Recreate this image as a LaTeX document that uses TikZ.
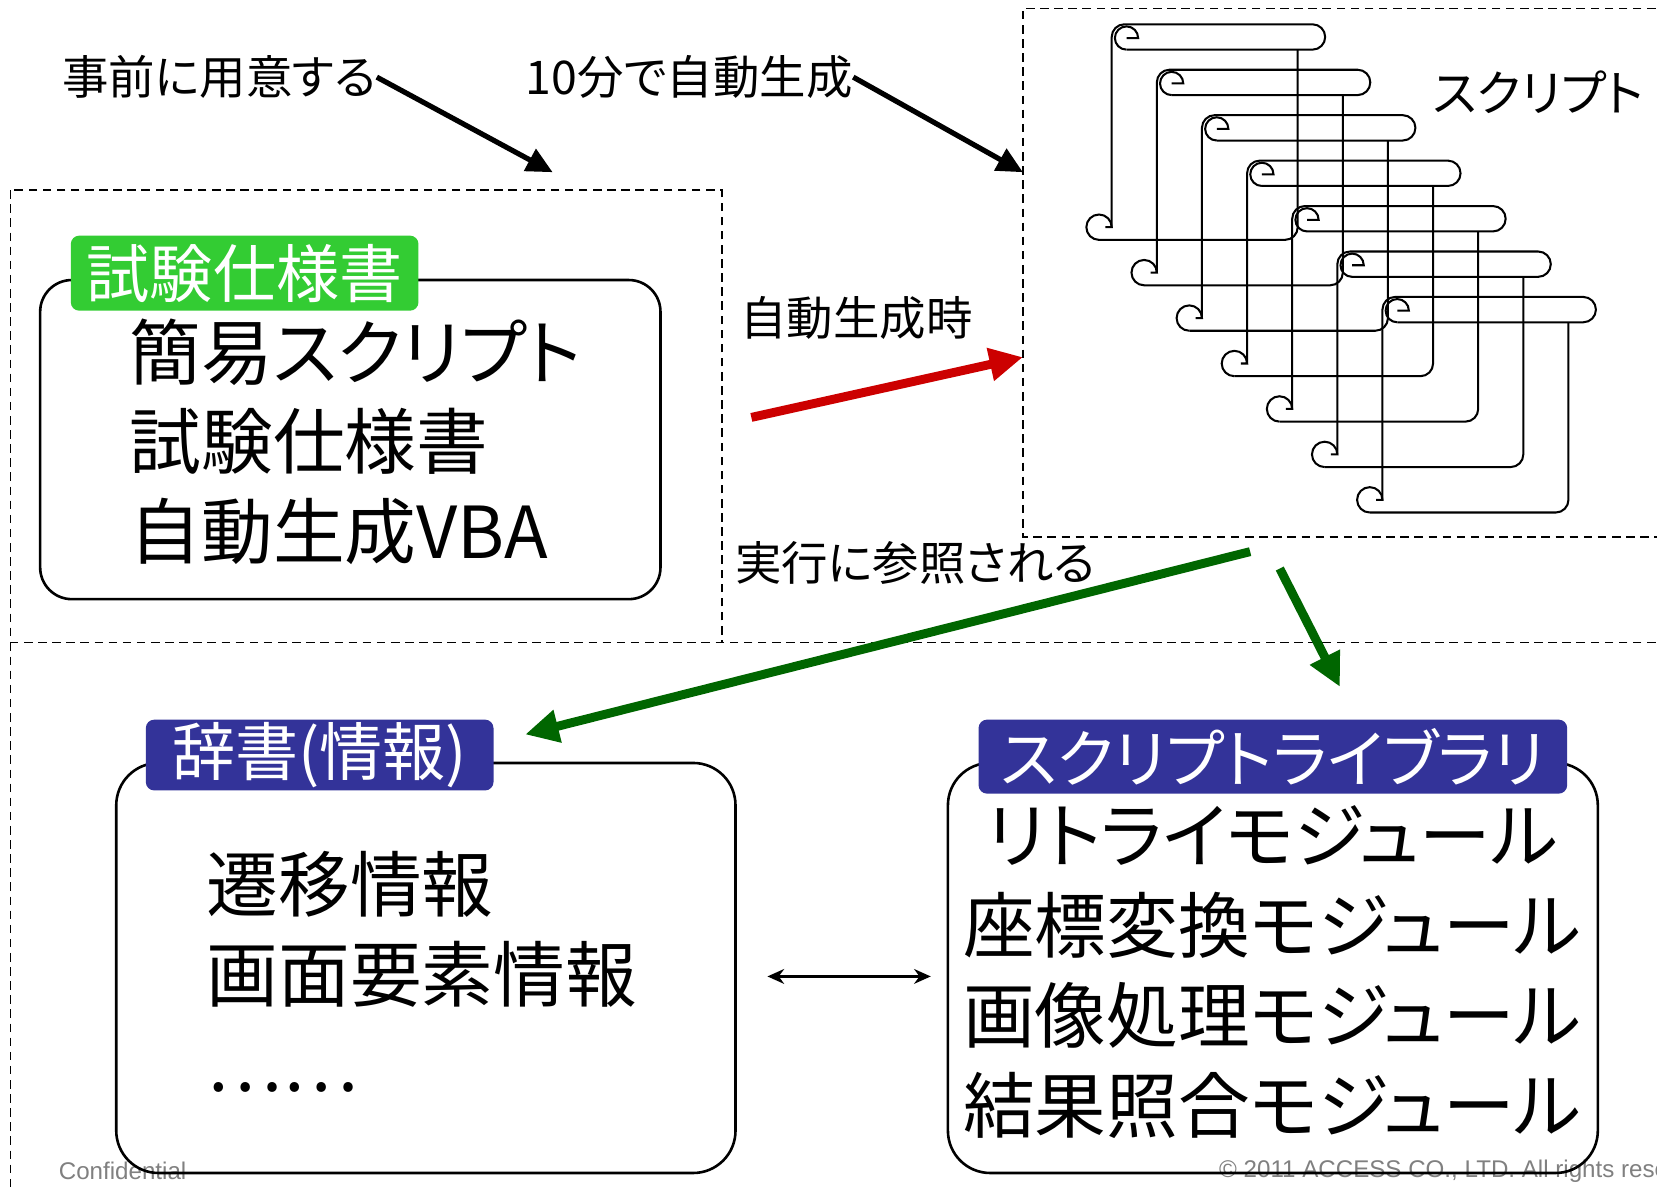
\documentclass[tikz,border=0pt]{standalone}
\usepackage{fontspec}
\setmainfont{Noto Sans CJK JP}[RawFeature=+palt]
\newfontfamily\footfont{Liberation Sans}
\usetikzlibrary{arrows.meta, positioning}
\definecolor{tagGreen}{RGB}{51, 204, 51}
\definecolor{tagBlue}{RGB}{51, 51, 153}
\definecolor{genRed}{RGB}{204, 0, 0}
\definecolor{refGreen}{RGB}{0, 102, 0}
\definecolor{footGray}{RGB}{128, 128, 128}
\tikzset{
    dash_frame/.style={
        draw=black,
        line width=0.5pt,
        dash pattern=on 2.3pt off 1.5pt
    },
    round_box/.style={
        draw=black,
        line width=0.7pt,
        rounded corners=3mm,
        inner sep=0pt
    },
    tag_label/.style={
        fill=#1,
        text=white,
        rounded corners=0.8mm,
        inner sep=0pt,
        font=\fontsize{17pt}{20pt}\selectfont
    },
    body_text/.style={
        inner sep=0pt,
        font=\fontsize{19.3pt}{24.2pt}\selectfont
    },
    note_text/.style={
        inner sep=0pt,
        font=\fontsize{12.5pt}{15pt}\selectfont
    },
    foot_text/.style={
        inner sep=0pt,
        text=footGray,
        font=\footfont\fontsize{6.5pt}{8pt}\selectfont
    },
    push_arrow/.style={
        -{Triangle[length=7pt,width=6.5pt]},
        line width=1.4pt
    },
    fat_arrow/.style={
        -{Triangle[length=9pt,width=8.5pt]},
        line width=2.4pt,
        draw=#1
    },
    link_arrow/.style={
        {Stealth[length=4.5pt,width=4pt]}-{Stealth[length=4.5pt,width=4pt]},
        line width=0.6pt
    },
    script_scroll/.pic={
        \draw[line width=0.55pt, rounded corners=1.2mm]
            (0,192) -- (0,0) -- (202,0) -- (202,24) -- (14,24);
        \draw[line width=0.55pt]
            (14,13) -- (25,13) arc[start angle=0, end angle=-270, radius=11];
        \draw[line width=0.55pt]
            (-12,204) arc[start angle=90, end angle=360, radius=12] -- (-6,192);
        \draw[line width=0.55pt, rounded corners=1.2mm]
            (-12,204) -- (176,204) -- (176,24);
    }
}

\begin{document}
\begin{tikzpicture}[x=0.1mm, y=-0.1mm]
    \useasboundingbox (0,0) rectangle (1568,1123);
    \clip (0,0) rectangle (1568,1123);

    % frames
    \draw[dash_frame] (10,180) rectangle (683,608);
    \draw[dash_frame] (1580,8) -- (968,8) -- (968,508) -- (1580,508);
    \draw[dash_frame] (1580,608) -- (683,608);
    \draw[dash_frame] (10,608) -- (10,1140);

    \node[foot_text, anchor=west] (conf) at (55,1108) {Confidential};
    \node[foot_text, anchor=west] (copy) at (1153,1108) {© 2011 ACCESS CO., LTD. All rights reserved.};

    \node[note_text, anchor=west] (pre) at (58,73) {事前に用意する};
    \node[note_text, anchor=west] (gen) at (497,73) {10分で自動生成};
    \node[note_text, anchor=west, font=\fontsize{13.2pt}{16pt}\selectfont] (sname) at (1355,87) {スクリプト};
    \node[note_text, anchor=west] (gtime) at (700,301) {自動生成時};
    \node[note_text, anchor=west] (refd) at (695,533) {実行に参照される};

    \node[round_box, minimum width=58.7mm, minimum height=30.2mm] (spec) at (331.5,416) {};
    \node[tag_label=tagGreen, minimum width=32.9mm, minimum height=7.1mm] (specTag) at (231.5,258.5) {試験仕様書};
    \node[body_text, anchor=west, align=left] (specBody) at (122,418) {簡易スクリプト\\試験仕様書\\自動生成VBA};

    \node[round_box, rounded corners=4mm, minimum width=58.6mm, minimum height=38.8mm] (dict) at (403,916) {};
    \node[tag_label=tagBlue, minimum width=32.9mm, minimum height=6.7mm] (dictTag) at (302.5,714.5) {辞書(情報)};
    \node[body_text, anchor=west, align=left] (dictBody) at (195,920) {遷移情報\\画面要素情報\\……};

    \node[round_box, rounded corners=4mm, minimum width=61.5mm, minimum height=38.8mm] (lib) at (1204.5,916) {};
    \node[tag_label=tagBlue, minimum width=55.7mm, minimum height=7mm] (libTag) at (1204.5,716) {スクリプトライブラリ};
    \node[body_text, align=center] (libBody) at (1204,920) {リトライモジュール\\座標変換モジュール\\画像処理モジュール\\結果照合モジュール};

    % stacked scripts
    \foreach \k in {0,...,6}
        \pic at ({1052+42.7*\k},{23+43*\k}) {script_scroll};

    \coordinate (preTip) at (523,163);
    \coordinate (genTip) at (968,163);
    \coordinate (runFrom) at (711,395);
    \coordinate (runTo) at (968,338);
    \coordinate (useFrom) at (1183,522);
    \coordinate (useTo) at (497,695);
    \coordinate (libFrom) at (1211,538);
    \coordinate (libTo) at (1268,650);

    \draw[push_arrow] (pre.east) -- (preTip);
    \draw[push_arrow] (gen.east) -- (genTip);
    \draw[fat_arrow=genRed] (runFrom) -- (runTo);
    \draw[fat_arrow=refGreen] (useFrom) -- (useTo);
    \draw[fat_arrow=refGreen] (libFrom) -- (libTo);
    \draw[link_arrow] ([shift={(29,8)}]dict.east) -- ([shift={(-15,8)}]lib.west);
\end{tikzpicture}
\end{document}
